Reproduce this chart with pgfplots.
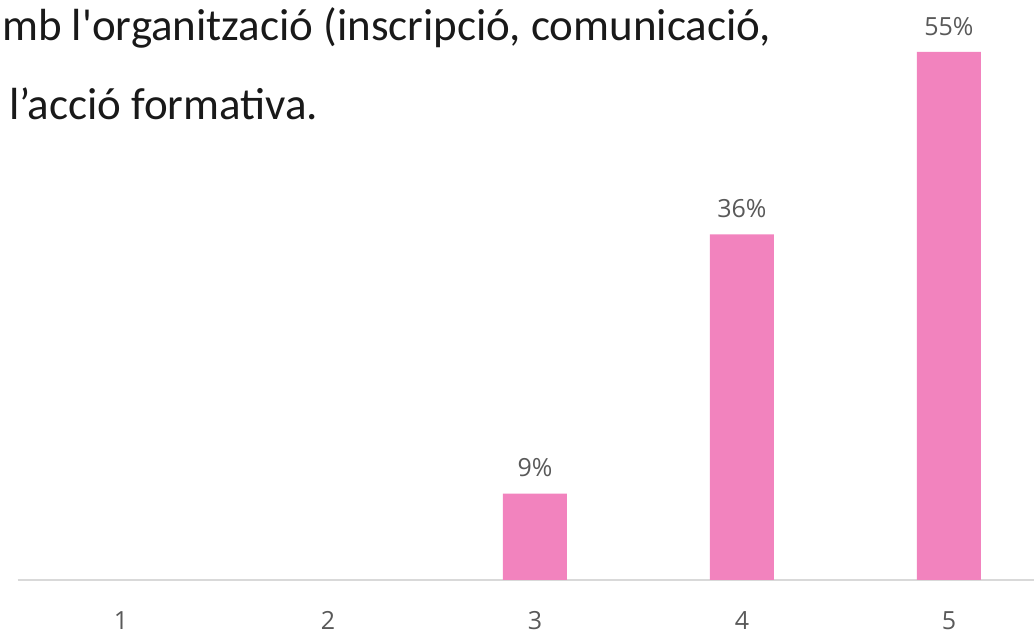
\documentclass[border=0pt]{standalone}
\usepackage{pgfplots}
\pgfplotsset{compat=1.18}
\usepackage{fontspec}
\newfontfamily\titlefont{Carlito}
\newfontfamily\numfont{Open Sans}
\definecolor{barpink}{HTML}{F283BE}
\definecolor{labgray}{HTML}{595959}
\definecolor{axgray}{HTML}{D9D9D9}
\begin{document}
\begin{tikzpicture}[x=1pt,y=1pt]
\useasboundingbox (0,0) rectangle (1034,634);
\clip (0,0) rectangle (1034,634);
% title, cut off on the left as in the reference
\node[anchor=base west, inner sep=0, text=black!90, font=\titlefont\fontsize{45}{54}\selectfont] at (2,593) {mb l'organització (inscripció, comunicació,};
\node[anchor=base west, inner sep=0, text=black!90, font=\titlefont\fontsize{45}{54}\selectfont] at (9,514) {l’acció formativa.};
\begin{axis}[at={(17.5pt,54pt)}, anchor=south west, scale only axis,
  width=1035pt, height=576pt,
  xmin=0.5, xmax=5.5, ymin=0, ymax=60,
  ybar, bar width=64pt,
  axis y line=none, axis x line*=bottom,
  x axis line style={axgray, line width=1.3pt, -},
  xtick={1,2,3,4,5}, major tick length=0pt,
  /pgf/number format/assume math mode=true,
  xticklabel style={font=\numfont\fontsize{25}{30}\selectfont, text=labgray, yshift=-28pt},
  ytick=\empty,
  nodes near coords={\pgfmathprintnumber{\pgfplotspointmeta}\%},
  nodes near coords style={font=\numfont\fontsize{25}{30}\selectfont, text=labgray, yshift=13pt},
  clip=false]
\addplot[fill=barpink, draw=none] coordinates {(3,9) (4,36) (5,55)};
\end{axis}
\end{tikzpicture}
\end{document}
